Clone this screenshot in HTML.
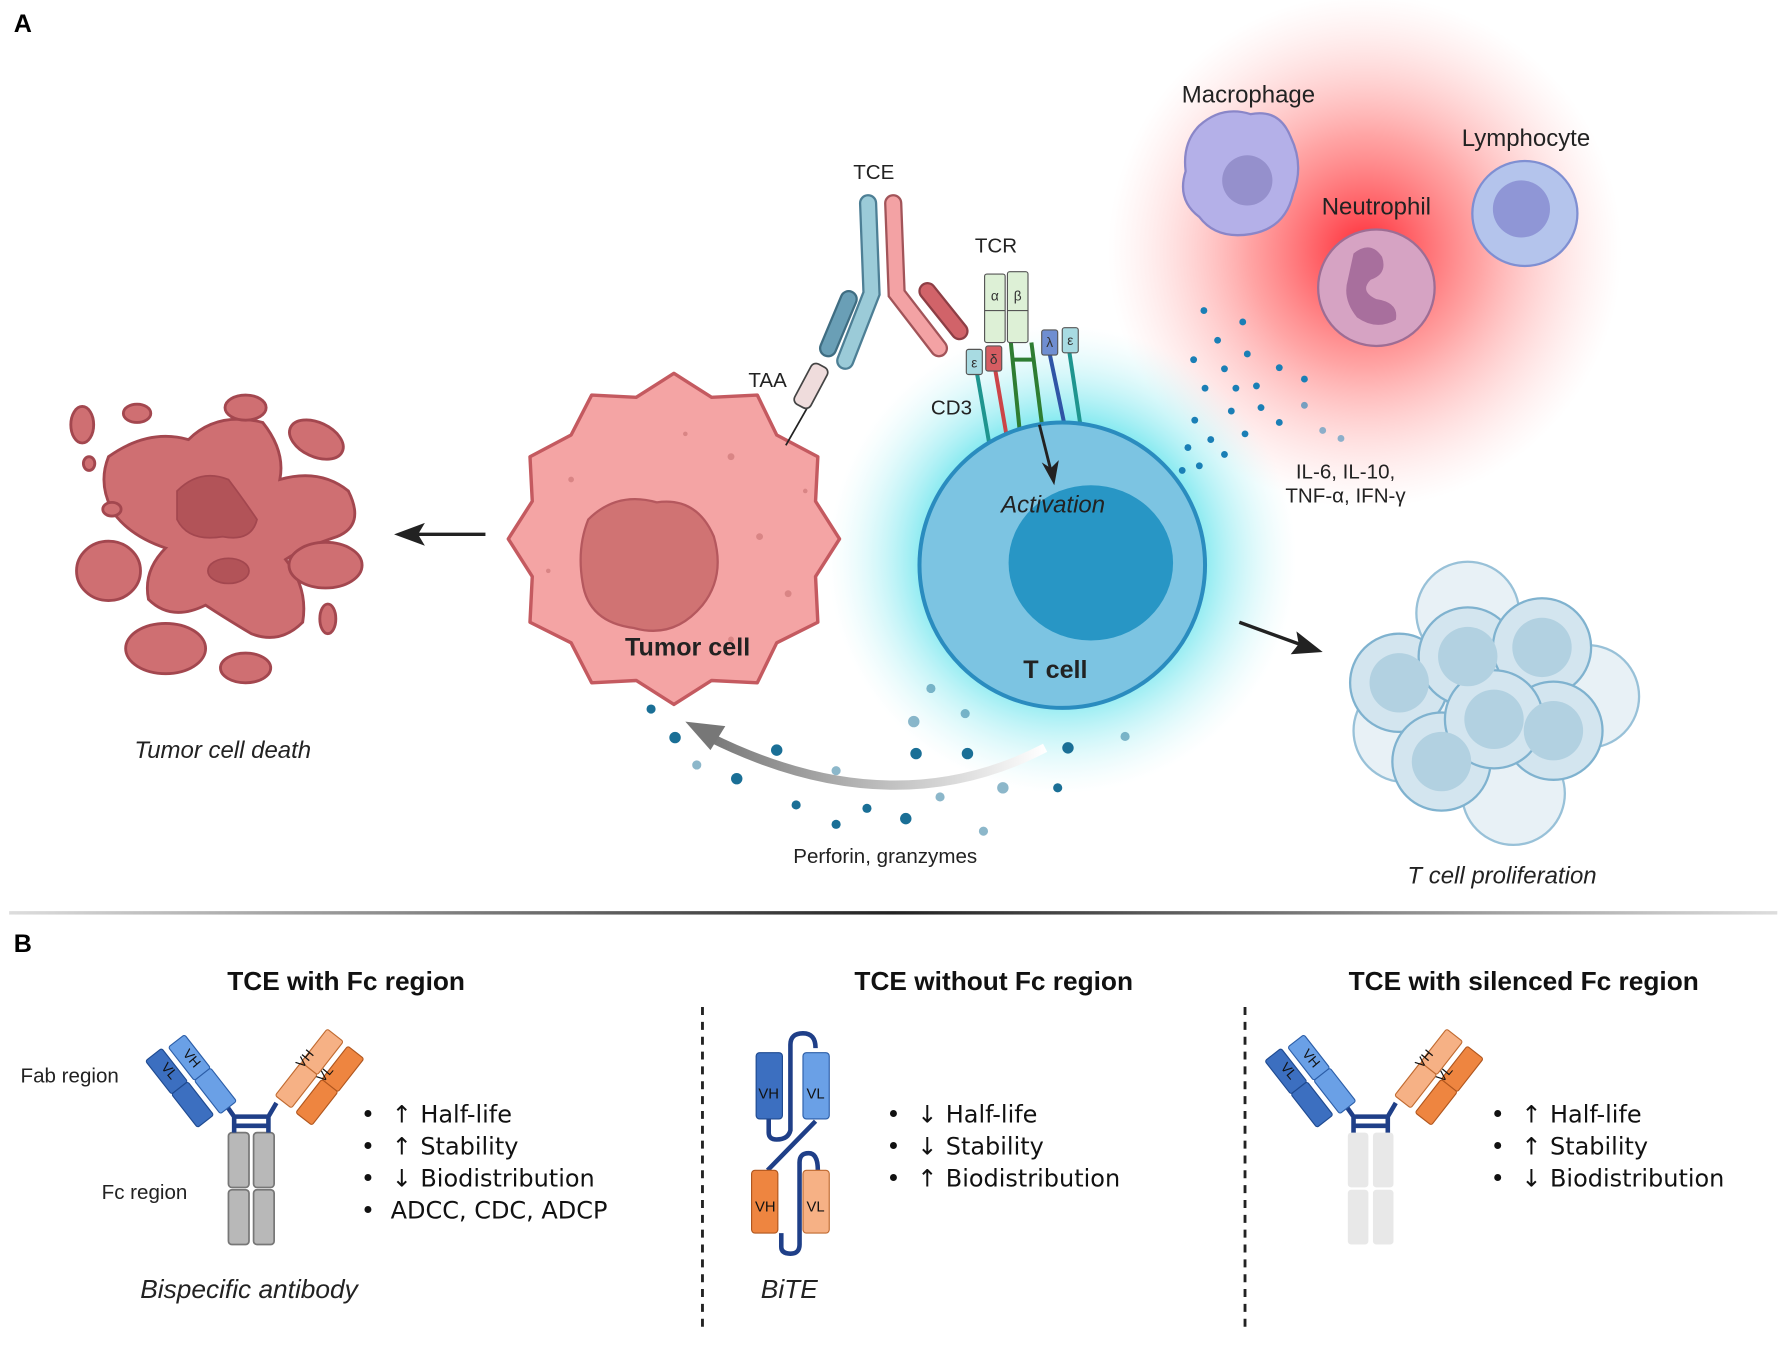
<!DOCTYPE html>
<html><head><meta charset="utf-8"><style>
html,body{margin:0;padding:0;background:#fff;}
svg{display:block;font-family:"Liberation Sans",sans-serif;}
.bl{font-family:"DejaVu Sans",sans-serif;font-size:21px;fill:#111;}
</style></head><body>
<svg width="1791" height="1345" viewBox="0 0 1568 1178" preserveAspectRatio="none" xmlns="http://www.w3.org/2000/svg">
<defs>
<radialGradient id="red" cx="0.5" cy="0.5" r="0.5"><stop offset="0" stop-color="#ff1e2a" stop-opacity="0.95"/><stop offset="0.45" stop-color="#ff5a5a" stop-opacity="0.55"/><stop offset="1" stop-color="#ffb0b0" stop-opacity="0"/></radialGradient>
<radialGradient id="cyan" cx="0.5" cy="0.5" r="0.5"><stop offset="0.55" stop-color="#4fe0ea" stop-opacity="0.8"/><stop offset="1" stop-color="#c8f4f7" stop-opacity="0"/></radialGradient>
<linearGradient id="sep" x1="0" x2="1"><stop offset="0" stop-color="#ddd"/><stop offset="0.5" stop-color="#222"/><stop offset="1" stop-color="#ddd"/></linearGradient>
<linearGradient id="garr" x1="1" x2="0"><stop offset="0" stop-color="#fff"/><stop offset="1" stop-color="#777"/></linearGradient>
</defs>

<circle cx="1195" cy="220" r="225" fill="url(#red)"/>
<circle cx="930" cy="490" r="205" fill="url(#cyan)"/>

<text x="12" y="28" font-size="22" font-weight="bold">A</text>
<text x="12" y="834" font-size="22" font-weight="bold">B</text>

<g fill="#cf6f72" stroke="#a3474f" stroke-width="2.5">
<path d="M95 400 Q130 375 165 385 Q190 360 230 370 Q250 395 245 420 Q280 410 305 430 Q320 460 295 470 Q265 480 250 490 Q270 515 265 545 Q245 565 220 555 Q195 540 180 530 Q150 545 130 525 Q125 500 145 480 Q115 470 100 450 Q85 425 95 400 Z"/>
<ellipse cx="72" cy="372" rx="10" ry="16"/>
<ellipse cx="120" cy="362" rx="12" ry="8"/>
<ellipse cx="215" cy="357" rx="18" ry="11"/>
<ellipse cx="277" cy="385" rx="25" ry="15" transform="rotate(25 277 385)"/>
<ellipse cx="78" cy="406" rx="5" ry="6"/>
<ellipse cx="95" cy="500" rx="28" ry="26"/>
<ellipse cx="285" cy="495" rx="32" ry="20"/>
<ellipse cx="287" cy="542" rx="7" ry="13"/>
<ellipse cx="145" cy="568" rx="35" ry="22"/>
<ellipse cx="215" cy="585" rx="22" ry="13"/>
<ellipse cx="98" cy="446" rx="8" ry="6"/>
</g>
<g fill="#b25358" stroke="#a3474f" stroke-width="1.5">
<path d="M155 430 Q175 410 200 420 Q215 440 225 455 Q220 475 195 470 Q165 475 155 455 Z"/>
<ellipse cx="200" cy="500" rx="18" ry="11"/>
</g>
<text x="195" y="664" font-size="21" font-style="italic" fill="#222" text-anchor="middle">Tumor cell death</text>

<line x1="425" y1="468" x2="365" y2="468" stroke="#222" stroke-width="3"/>
<polygon points="345,468 372,458 366,468 372,478" fill="#222"/>

<polygon points="735,472 714,505 716,545 680,563 663,598 623,596 590,617 557,596 518,598 500,563 464,545 466,505 445,472 466,439 464,400 500,381 518,346 557,348 590,327 623,348 663,346 680,381 716,400 714,439" fill="#f4a4a4" stroke="#c45a60" stroke-width="3" stroke-linejoin="round"/>
<path d="M515 455 Q540 430 575 440 Q610 435 625 470 Q635 505 615 530 Q590 560 555 550 Q515 545 510 510 Q505 480 515 455 Z" fill="#d07373" stroke="#b5585e" stroke-width="2"/>
<g fill="#d98585"><circle cx="640" cy="400" r="3"/><circle cx="665" cy="470" r="3"/><circle cx="500" cy="420" r="2.5"/><circle cx="690" cy="520" r="3"/><circle cx="640" cy="560" r="2.5"/><circle cx="600" cy="380" r="2"/><circle cx="705" cy="430" r="2"/><circle cx="480" cy="500" r="2"/></g>
<text x="602" y="574" font-size="22" font-weight="bold" fill="#222" text-anchor="middle">Tumor cell</text>

<line x1="688" y1="390" x2="708" y2="355" stroke="#222" stroke-width="1.5"/>
<rect x="702" y="318" width="16" height="40" rx="5" fill="#efdcdc" stroke="#444" stroke-width="1.5" transform="rotate(28 710 338)"/>
<text x="672" y="339" font-size="18" fill="#222" text-anchor="middle">TAA</text>

<path d="M760 178 L763 257 L740 316" stroke="#4d7f95" stroke-width="16" stroke-linecap="round" fill="none"/>
<path d="M760 178 L763 257 L740 316" stroke="#9bcbd8" stroke-width="12" stroke-linecap="round" fill="none"/>
<path d="M782 178 L785 257 L822 305" stroke="#a25459" stroke-width="16" stroke-linecap="round" fill="none"/>
<path d="M782 178 L785 257 L822 305" stroke="#f3a2a4" stroke-width="12" stroke-linecap="round" fill="none"/>
<line x1="743" y1="262" x2="725" y2="305" stroke="#3f6d82" stroke-width="16" stroke-linecap="round"/>
<line x1="743" y1="262" x2="725" y2="305" stroke="#6a9fb6" stroke-width="12" stroke-linecap="round"/>
<line x1="812" y1="255" x2="840" y2="290" stroke="#8e3e45" stroke-width="16" stroke-linecap="round"/>
<line x1="812" y1="255" x2="840" y2="290" stroke="#d16369" stroke-width="12" stroke-linecap="round"/>
<text x="765" y="157" font-size="18" fill="#222" text-anchor="middle">TCE</text>

<text x="872" y="221" font-size="18" fill="#222" text-anchor="middle">TCR</text>
<g stroke-width="3.5" fill="none">
<line x1="855" y1="325" x2="866" y2="388" stroke="#1f958f"/>
<line x1="871" y1="322" x2="882" y2="386" stroke="#cc4448"/>
<line x1="885" y1="300" x2="893" y2="380" stroke="#2e7d32"/>
<line x1="903" y1="300" x2="913" y2="378" stroke="#2e7d32"/>
<line x1="886" y1="315" x2="906" y2="315" stroke="#2e7d32"/>
<line x1="919" y1="310" x2="933" y2="377" stroke="#2f55a6"/>
<line x1="936" y1="307" x2="946" y2="373" stroke="#1f958f"/>
</g>
<g stroke="#555" stroke-width="1">
<rect x="862" y="240" width="18" height="60" rx="2" fill="#ddf0d6"/>
<rect x="882" y="238" width="18" height="62" rx="2" fill="#ddf0d6"/>
<line x1="862" y1="272" x2="880" y2="272"/><line x1="882" y1="272" x2="900" y2="272"/>
<rect x="846" y="306" width="14" height="22" rx="2" fill="#a8dbe2"/>
<rect x="863" y="303" width="14" height="22" rx="2" fill="#d65d62"/>
<rect x="912" y="289" width="14" height="22" rx="2" fill="#6f8ed1"/>
<rect x="930" y="287" width="14" height="22" rx="2" fill="#a8dbe2"/>
</g>
<g font-size="12" fill="#333" text-anchor="middle">
<text x="871" y="263">α</text><text x="891" y="263">β</text>
<text x="853" y="322">ε</text><text x="870" y="319">δ</text>
<text x="919" y="304">λ</text><text x="937" y="302">ε</text>
</g>
<text x="833" y="363" font-size="18" fill="#222" text-anchor="middle">CD3</text>

<circle cx="930" cy="495" r="125" fill="#7cc4e2" stroke="#2a8cbf" stroke-width="3.5"/>
<ellipse cx="955" cy="493" rx="72" ry="68" fill="#2896c5"/>
<line x1="910" y1="372" x2="920" y2="412" stroke="#222" stroke-width="2.5"/>
<polygon points="923,425 912,405 920,410 927,403" fill="#222"/>
<text x="922" y="449" font-size="21" font-style="italic" fill="#222" text-anchor="middle">Activation</text>
<text x="924" y="594" font-size="22" font-weight="bold" fill="#222" text-anchor="middle">T cell</text>

<path d="M1050 110 Q1070 92 1095 100 Q1120 95 1130 120 Q1142 145 1132 170 Q1125 200 1095 205 Q1065 210 1050 190 Q1030 175 1038 150 Q1035 125 1050 110 Z" fill="#b4b0e8" stroke="#8a86c8" stroke-width="2"/>
<circle cx="1092" cy="158" r="22" fill="#9590cc"/>
<text x="1093" y="90" font-size="21" fill="#222" text-anchor="middle">Macrophage</text>
<circle cx="1205" cy="252" r="51" fill="#d6a3c3" stroke="#9e6d94" stroke-width="2"/>
<path d="M1185 222 Q1200 210 1210 225 Q1215 240 1200 245 Q1190 255 1205 262 Q1225 265 1222 280 Q1205 290 1188 278 Q1175 262 1180 245 Z" fill="#a86f9d"/>
<text x="1205" y="188" font-size="21" fill="#222" text-anchor="middle">Neutrophil</text>
<circle cx="1335" cy="187" r="46" fill="#b4c4ec" stroke="#7f8fd2" stroke-width="2"/>
<circle cx="1332" cy="183" r="25" fill="#8f96d6"/>
<text x="1336" y="128" font-size="21" fill="#222" text-anchor="middle">Lymphocyte</text>

<g fill="#1a7fb6">
<circle cx="1054" cy="272" r="3"/><circle cx="1088" cy="282" r="3"/><circle cx="1066" cy="298" r="3"/><circle cx="1045" cy="315" r="3"/><circle cx="1092" cy="310" r="3"/><circle cx="1072" cy="323" r="3"/><circle cx="1100" cy="338" r="3"/><circle cx="1120" cy="322" r="3"/><circle cx="1142" cy="332" r="3"/><circle cx="1055" cy="340" r="3"/><circle cx="1082" cy="340" r="3"/><circle cx="1046" cy="368" r="3"/><circle cx="1078" cy="360" r="3"/><circle cx="1104" cy="357" r="3"/><circle cx="1120" cy="370" r="3"/><circle cx="1060" cy="385" r="3"/><circle cx="1090" cy="380" r="3"/><circle cx="1040" cy="392" r="3"/><circle cx="1072" cy="398" r="3"/><circle cx="1050" cy="408" r="3"/><circle cx="1035" cy="412" r="3"/><circle cx="1142" cy="355" r="3" opacity="0.6"/><circle cx="1158" cy="377" r="3" opacity="0.5"/><circle cx="1174" cy="384" r="3" opacity="0.5"/>
</g>
<text x="1178" y="419" font-size="18" fill="#222" text-anchor="middle">IL-6, IL-10,</text>
<text x="1178" y="440" font-size="18" fill="#222" text-anchor="middle">TNF-α, IFN-γ</text>

<line x1="1085" y1="545" x2="1140" y2="565" stroke="#222" stroke-width="3"/>
<polygon points="1158,571 1130,573 1137,564 1135,553" fill="#222"/>

<g stroke="#7fb2cf" stroke-width="2">
<g fill="#e3eef4" opacity="0.8"><circle cx="1285" cy="537" r="45"/><circle cx="1390" cy="610" r="45"/><circle cx="1325" cy="695" r="45"/><circle cx="1230" cy="640" r="45"/></g>
<g fill="#d3e5ef"><circle cx="1225" cy="598" r="43"/><circle cx="1285" cy="575" r="43"/><circle cx="1350" cy="567" r="43"/><circle cx="1360" cy="640" r="43"/><circle cx="1262" cy="667" r="43"/><circle cx="1308" cy="630" r="43"/></g>
<g fill="#b2d1e1" stroke="none"><circle cx="1225" cy="598" r="26"/><circle cx="1285" cy="575" r="26"/><circle cx="1350" cy="567" r="26"/><circle cx="1360" cy="640" r="26"/><circle cx="1262" cy="667" r="26"/><circle cx="1308" cy="630" r="26"/></g>
</g>
<text x="1315" y="774" font-size="21" font-style="italic" fill="#222" text-anchor="middle">T cell proliferation</text>

<path d="M915 655 Q780 725 620 645" stroke="url(#garr)" stroke-width="8" fill="none"/>
<polygon points="600,632 635,636 622,657" fill="#777"/>
<g fill="#1a6f96">
<circle cx="815" cy="603" r="4" opacity="0.5"/><circle cx="800" cy="632" r="5" opacity="0.5"/><circle cx="845" cy="625" r="4" opacity="0.5"/><circle cx="570" cy="621" r="4"/><circle cx="591" cy="646" r="5"/><circle cx="680" cy="657" r="5"/><circle cx="645" cy="682" r="5"/><circle cx="732" cy="675" r="4" opacity="0.5"/><circle cx="802" cy="660" r="5"/><circle cx="847" cy="660" r="5"/><circle cx="935" cy="655" r="5"/><circle cx="985" cy="645" r="4" opacity="0.5"/><circle cx="697" cy="705" r="4"/><circle cx="759" cy="708" r="4"/><circle cx="793" cy="717" r="5"/><circle cx="823" cy="698" r="4" opacity="0.5"/><circle cx="878" cy="690" r="5" opacity="0.5"/><circle cx="926" cy="690" r="4"/><circle cx="732" cy="722" r="4"/><circle cx="861" cy="728" r="4" opacity="0.5"/><circle cx="610" cy="670" r="4" opacity="0.5"/>
</g>
<text x="775" y="756" font-size="18" fill="#222" text-anchor="middle">Perforin, granzymes</text>

<rect x="8" y="798" width="1548" height="3" fill="url(#sep)"/>

<g font-size="23" font-weight="bold" fill="#111" text-anchor="middle">
<text x="303" y="867">TCE with Fc region</text>
<text x="870" y="867">TCE without Fc region</text>
<text x="1334" y="867">TCE with silenced Fc region</text>
</g>
<line x1="615" y1="882" x2="615" y2="1168" stroke="#222" stroke-width="2.5" stroke-dasharray="7,6"/>
<line x1="1090" y1="882" x2="1090" y2="1168" stroke="#222" stroke-width="2.5" stroke-dasharray="7,6"/>

<g>
<rect x="200" y="992" width="18" height="48" rx="3" fill="#b8b8b8" stroke="#777" stroke-width="1.5"/>
<rect x="222" y="992" width="18" height="48" rx="3" fill="#b8b8b8" stroke="#777" stroke-width="1.5"/>
<rect x="200" y="1042" width="18" height="48" rx="3" fill="#b8b8b8" stroke="#777" stroke-width="1.5"/>
<rect x="222" y="1042" width="18" height="48" rx="3" fill="#b8b8b8" stroke="#777" stroke-width="1.5"/>
<path d="M205 992 V978 L198 968 M235 992 V978 L242 966 M205 978 H235 M205 986 H235" stroke="#1f3f88" stroke-width="4" fill="none"/>
<g transform="translate(200 970) rotate(-38)"><rect x="-9" y="-74" width="18" height="37" rx="2" fill="#6aa0e6" stroke="#2c5ea8"/><rect x="-9" y="-37" width="18" height="37" rx="2" fill="#6aa0e6" stroke="#2c5ea8"/></g>
<g transform="translate(180 982) rotate(-38)"><rect x="-9" y="-74" width="18" height="37" rx="2" fill="#3c6fc0" stroke="#1f4a90"/><rect x="-9" y="-37" width="18" height="37" rx="2" fill="#3c6fc0" stroke="#1f4a90"/></g>
<g transform="translate(248 965) rotate(38)"><rect x="-9" y="-74" width="18" height="37" rx="2" fill="#f6b185" stroke="#c06a30"/><rect x="-9" y="-37" width="18" height="37" rx="2" fill="#f6b185" stroke="#c06a30"/></g>
<g transform="translate(266 980) rotate(38)"><rect x="-9" y="-74" width="18" height="37" rx="2" fill="#ee8540" stroke="#b0561e"/><rect x="-9" y="-37" width="18" height="37" rx="2" fill="#ee8540" stroke="#b0561e"/></g>
<g font-size="12" fill="#111"><text x="140" y="944" transform="rotate(50 150 940)">VL</text><text x="160" y="928" transform="rotate(50 165 925)">VH</text><text x="258" y="930" transform="rotate(-50 268 926)">VH</text><text x="277" y="944" transform="rotate(-50 285 940)">VL</text></g>
</g>
<text x="18" y="948" font-size="18" fill="#222">Fab region</text>
<text x="89" y="1050" font-size="18" fill="#222">Fc region</text>
<text x="218" y="1137" font-size="23" font-style="italic" fill="#222" text-anchor="middle">Bispecific antibody</text>
<g class="bl">
<text x="316" y="983">•</text><text x="343" y="983">↑</text><text x="368" y="983">Half-life</text>
<text x="316" y="1011">•</text><text x="343" y="1011">↑</text><text x="368" y="1011">Stability</text>
<text x="316" y="1039">•</text><text x="343" y="1039">↓</text><text x="368" y="1039">Biodistribution</text>
<text x="316" y="1067">•</text><text x="342" y="1067">ADCC, CDC, ADCP</text>
</g>

<path d="M673 980 V992 Q673 998 680 998 Q690 998 692 990 V915 Q692 905 703 905 Q714 905 714 918 M714 982 L672 1025 M684 1080 V1092 Q684 1098 692 1098 Q700 1098 700 1090 V1018 Q700 1010 708 1010 Q716 1010 716 1025" stroke="#1f3f88" stroke-width="4" fill="none"/>
<rect x="662" y="922" width="23" height="58" rx="3" fill="#3c6fc0" stroke="#1f4a90"/>
<rect x="703" y="922" width="23" height="58" rx="3" fill="#6aa0e6" stroke="#2c5ea8"/>
<rect x="658" y="1025" width="23" height="55" rx="3" fill="#ee8540" stroke="#b0561e"/>
<rect x="703" y="1025" width="23" height="55" rx="3" fill="#f6b185" stroke="#c06a30"/>
<g font-size="13" fill="#111" text-anchor="middle"><text x="673" y="962">VH</text><text x="714" y="962">VL</text><text x="670" y="1061">VH</text><text x="714" y="1061">VL</text></g>
<text x="691" y="1137" font-size="23" font-style="italic" fill="#222" text-anchor="middle">BiTE</text>
<g class="bl">
<text x="776" y="983">•</text><text x="803" y="983">↓</text><text x="828" y="983">Half-life</text>
<text x="776" y="1011">•</text><text x="803" y="1011">↓</text><text x="828" y="1011">Stability</text>
<text x="776" y="1039">•</text><text x="803" y="1039">↑</text><text x="828" y="1039">Biodistribution</text>
</g>

<g transform="translate(980 0)">
<rect x="200" y="992" width="18" height="48" rx="3" fill="#e8e8e8"/>
<rect x="222" y="992" width="18" height="48" rx="3" fill="#e8e8e8"/>
<rect x="200" y="1042" width="18" height="48" rx="3" fill="#e8e8e8"/>
<rect x="222" y="1042" width="18" height="48" rx="3" fill="#e8e8e8"/>
<path d="M205 992 V978 L198 968 M235 992 V978 L242 966 M205 978 H235 M205 986 H235" stroke="#1f3f88" stroke-width="4" fill="none"/>
<g transform="translate(200 970) rotate(-38)"><rect x="-9" y="-74" width="18" height="37" rx="2" fill="#6aa0e6" stroke="#2c5ea8"/><rect x="-9" y="-37" width="18" height="37" rx="2" fill="#6aa0e6" stroke="#2c5ea8"/></g>
<g transform="translate(180 982) rotate(-38)"><rect x="-9" y="-74" width="18" height="37" rx="2" fill="#3c6fc0" stroke="#1f4a90"/><rect x="-9" y="-37" width="18" height="37" rx="2" fill="#3c6fc0" stroke="#1f4a90"/></g>
<g transform="translate(248 965) rotate(38)"><rect x="-9" y="-74" width="18" height="37" rx="2" fill="#f6b185" stroke="#c06a30"/><rect x="-9" y="-37" width="18" height="37" rx="2" fill="#f6b185" stroke="#c06a30"/></g>
<g transform="translate(266 980) rotate(38)"><rect x="-9" y="-74" width="18" height="37" rx="2" fill="#ee8540" stroke="#b0561e"/><rect x="-9" y="-37" width="18" height="37" rx="2" fill="#ee8540" stroke="#b0561e"/></g>
<g font-size="12" fill="#111"><text x="140" y="944" transform="rotate(50 150 940)">VL</text><text x="160" y="928" transform="rotate(50 165 925)">VH</text><text x="258" y="930" transform="rotate(-50 268 926)">VH</text><text x="277" y="944" transform="rotate(-50 285 940)">VL</text></g>
</g>
<g class="bl">
<text x="1305" y="983">•</text><text x="1332" y="983">↑</text><text x="1357" y="983">Half-life</text>
<text x="1305" y="1011">•</text><text x="1332" y="1011">↑</text><text x="1357" y="1011">Stability</text>
<text x="1305" y="1039">•</text><text x="1332" y="1039">↓</text><text x="1357" y="1039">Biodistribution</text>
</g>
</svg>
</body></html>
